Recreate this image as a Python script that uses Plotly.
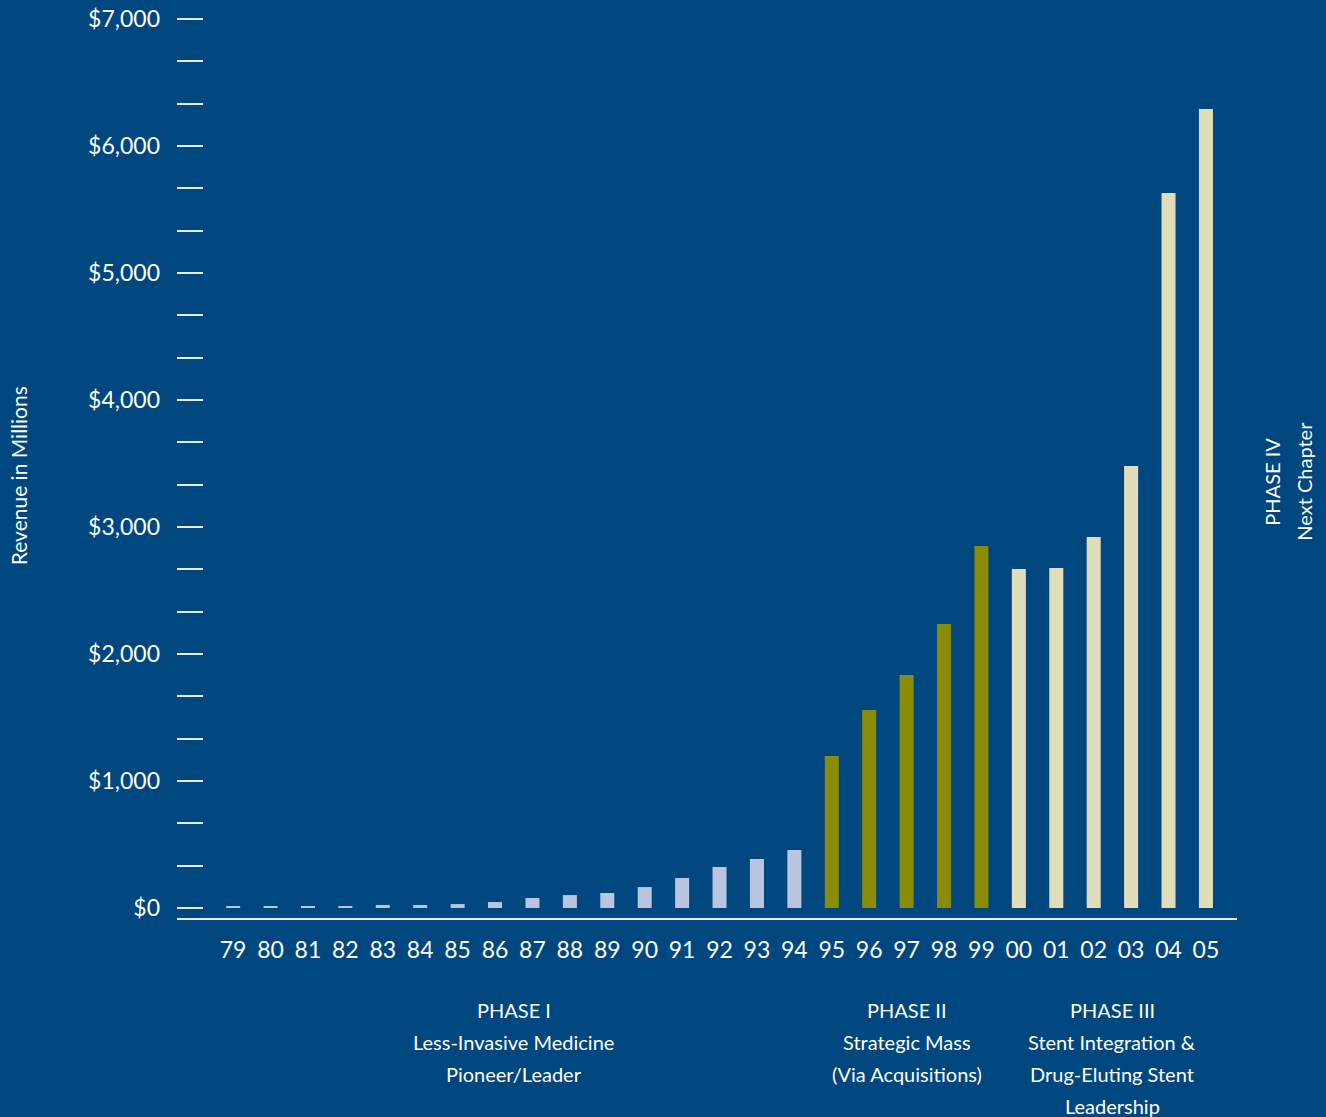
import plotly.graph_objects as go

years = ["79","80","81","82","83","84","85","86","87","88","89","90","91","92","93","94",
         "95","96","97","98","99","00","01","02","03","04","05"]
revenue = [15, 15, 15, 15, 24, 24, 31, 47, 79, 102, 118, 165, 236, 323, 386, 457,
           1197, 1559, 1835, 2236, 2850, 2669, 2677, 2921, 3480, 5630, 6291]
phase_of_year = ["I"]*16 + ["II"]*5 + ["III"]*6
phase_colors = {"I": "#b9c5df", "II": "#8a8b06", "III": "#e0ddba"}

ytick_vals = [i * 1000 / 3 for i in range(22)]
ytick_text = [f"${int(round(v)):,}" if i % 3 == 0 else "" for i, v in enumerate(ytick_vals)]

phase_labels = [
    (7.5, ["PHASE I", "Less-Invasive Medicine", "Pioneer/Leader"]),
    (18, ["PHASE II", "Strategic Mass", "(Via Acquisitions)"]),
    (23.5, ["PHASE III", "Stent Integration &", "Drug-Eluting Stent", "Leadership"]),
]

BG = "#00467f"
FONT = "Lato"

fig = go.Figure()
fig.add_trace(go.Bar(
    x=list(range(len(years))), y=revenue,
    marker=dict(color=[phase_colors[p] for p in phase_of_year], line=dict(width=0)),
    width=0.375,
))

fig.update_layout(
    width=1326, height=1117,
    paper_bgcolor=BG, plot_bgcolor=BG,
    margin=dict(l=177, r=89, t=9, b=199, autoexpand=False),
    showlegend=False,
    font=dict(family=FONT, color="white"),
    xaxis=dict(
        range=[-1.5, 26.83], tickmode="array", tickvals=list(range(len(years))), ticktext=years,
        showgrid=False, zeroline=False, showline=True, linecolor="#e6ecf3", linewidth=2,
        ticks="", tickfont=dict(size=23, color="white", family=FONT), ticklabelstandoff=10,
        automargin=False, fixedrange=True,
    ),
    yaxis=dict(
        range=[-78.7, 7078.7], tickmode="array", tickvals=ytick_vals, ticktext=ytick_text,
        showgrid=False, zeroline=False, showline=False,
        ticks="inside", ticklen=26, tickwidth=1.5, tickcolor="#e6ecf3",
        tickfont=dict(size=23, color="white", family=FONT), ticklabelstandoff=16,
        automargin=False,
    ),
)

fig.add_annotation(text="Revenue in Millions", xref="paper", yref="paper", x=0, y=0.486,
                   xshift=-159, textangle=-90, showarrow=False,
                   font=dict(size=21, color="white", family=FONT), xanchor="center", yanchor="middle")

for xi, lines in phase_labels:
    for k, line in enumerate(lines):
        fig.add_annotation(text=line, xref="x", yref="paper", x=xi, y=0, yshift=-92 - 32 * k,
                           showarrow=False, xanchor="center", yanchor="middle",
                           font=dict(size=20, color="white", family=FONT))

for k, line in enumerate(["PHASE IV", "Next Chapter"]):
    fig.add_annotation(text=line, xref="paper", yref="paper", x=1, y=0.48, xshift=35 + 32 * k,
                       textangle=-90, showarrow=False, xanchor="center", yanchor="middle",
                       font=dict(size=20, color="white", family=FONT))

fig.write_html("out.html")
